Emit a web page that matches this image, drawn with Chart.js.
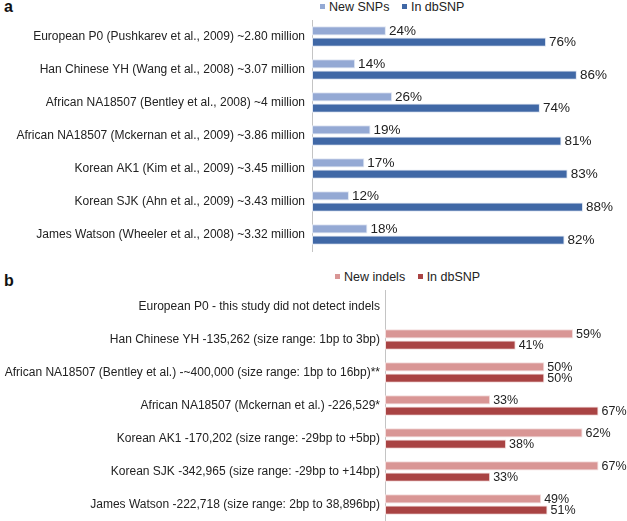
<!DOCTYPE html>
<html>
<head>
<meta charset="utf-8">
<script src="https://cdn.jsdelivr.net/npm/chart.js@4"></script>
<style>
  body { margin: 0; background: #fff; font-family: "Liberation Sans", Arial, sans-serif; }
  #wrap { position: relative; width: 627px; height: 521px; }
  .tag { position: absolute; left: 4px; font-weight: bold; font-size: 16px; color: #111; }
  .leg { position: absolute; font-size: 12.5px; color: #222; white-space: nowrap; }
  .leg span.box { display: inline-block; width: 5px; height: 5px; margin: 0 4px 2px 0; vertical-align: middle; }
  .leg span.item { margin-right: 9px; }
  canvas { position: absolute; left: 0; }
</style>
</head>
<body>
<div id="wrap">
  <div class="tag" style="top:-2px">a</div>
  <div class="leg" style="left:320px;top:0px">
    <span class="item"><span class="box" style="background:#94a9d4"></span>New SNPs</span>
    <span class="item"><span class="box" style="background:#4068a6"></span>In dbSNP</span>
  </div>
  <canvas id="chartA" width="627" height="255" style="top:0"></canvas>

  <div class="tag" style="top:272px">b</div>
  <div class="leg" style="left:335px;top:270px">
    <span class="item"><span class="box" style="background:#d99695"></span>New indels</span>
    <span class="item"><span class="box" style="background:#a94343"></span>In dbSNP</span>
  </div>
  <canvas id="chartB" width="627" height="266" style="top:255px"></canvas>
</div>
<script>
// panel a - SNPs
const snpGenomes = [
    "European P0 (Pushkarev et al., 2009) ~2.80 million",
    "Han Chinese YH (Wang et al., 2008) ~3.07 million",
    "African NA18507 (Bentley et al., 2008) ~4 million",
    "African NA18507 (Mckernan et al., 2009) ~3.86 million",
    "Korean AK1 (Kim et al., 2009) ~3.45 million",
    "Korean SJK (Ahn et al., 2009) ~3.43 million",
    "James Watson (Wheeler et al., 2008) ~3.32 million"
];
const newSnps = [24, 14, 26, 19, 17, 12, 18];
const dbSnps = [76, 86, 74, 81, 83, 88, 82];

// panel b - indels
const indelGenomes = [
    "European P0 - this study did not detect indels",
    "Han Chinese YH -135,262 (size range: 1bp to 3bp)",
    "African NA18507 (Bentley et al.) -~400,000 (size range: 1bp to 16bp)**",
    "African NA18507 (Mckernan et al.) -226,529*",
    "Korean AK1 -170,202 (size range: -29bp to +5bp)",
    "Korean SJK -342,965 (size range: -29bp to +14bp)",
    "James Watson -222,718 (size range: 2bp to 38,896bp)"
];
const newIndels = [null, 59, 50, 33, 62, 67, 49];
const dbIndels = [null, 41, 50, 67, 38, 33, 51];

const FONT = "'Liberation Sans', Arial, sans-serif";

// percent labels at the end of each bar
const pctLabels = {
    id: 'pctLabels',
    afterDatasetsDraw(chart, args, opts) {
        const ctx = chart.ctx;
        ctx.save();
        ctx.font = opts.size + 'px ' + FONT;
        ctx.fillStyle = '#222';
        ctx.textBaseline = 'middle';
        chart.data.datasets.forEach((ds, i) => {
            chart.getDatasetMeta(i).data.forEach((bar, j) => {
                if (ds.data[j] == null) return;
                ctx.fillText(ds.data[j] + '%', bar.x + 3, bar.y + 0.5);
            });
        });
        ctx.restore();
    }
};

function makeChart(id, labels, light, dark, colors, axisX, max, pad, tickPad, labelSize) {
    return new Chart(document.getElementById(id), {
        type: 'bar',
        data: {
            labels: labels,
            datasets: [
                { data: light, backgroundColor: colors[0], borderColor: colors[2], borderWidth: 1, borderSkipped: false },
                { data: dark, backgroundColor: colors[1], borderColor: colors[2], borderWidth: 1, borderSkipped: false }
            ]
        },
        options: {
            indexAxis: 'y',
            responsive: false,
            animation: false,
            layout: { padding: pad },
            datasets: { bar: { categoryPercentage: 0.68, barPercentage: 0.82 } },
            plugins: { legend: { display: false }, tooltip: { enabled: false }, pctLabels: { size: labelSize } },
            scales: {
                x: { display: false, min: 0, max: max },
                y: {
                    grid: { display: false, drawTicks: false },
                    border: { display: true, color: '#c4c4c4', width: 1 },
                    ticks: { color: '#222', padding: tickPad, font: { size: 12, family: FONT } },
                    afterFit(s) {
                        s.width = axisX;
                        s.paddingTop = 0;
                        s.paddingBottom = 0;
                    }
                }
            }
        },
        plugins: [pctLabels]
    });
}

makeChart('chartA', snpGenomes, newSnps, dbSnps, ['#94a9d4', '#4068a6', '#dfe6f2'], 312, 100,
    { top: 20, right: 7, bottom: 4, left: 0 }, 7, 13.5);
makeChart('chartB', indelGenomes, newIndels, dbIndels, ['#d99695', '#a94343', '#f2dcdc'], 385, 75,
    { top: 35, right: 3, bottom: 0, left: 0 }, 5, 12.5);
</script>
</body>
</html>
